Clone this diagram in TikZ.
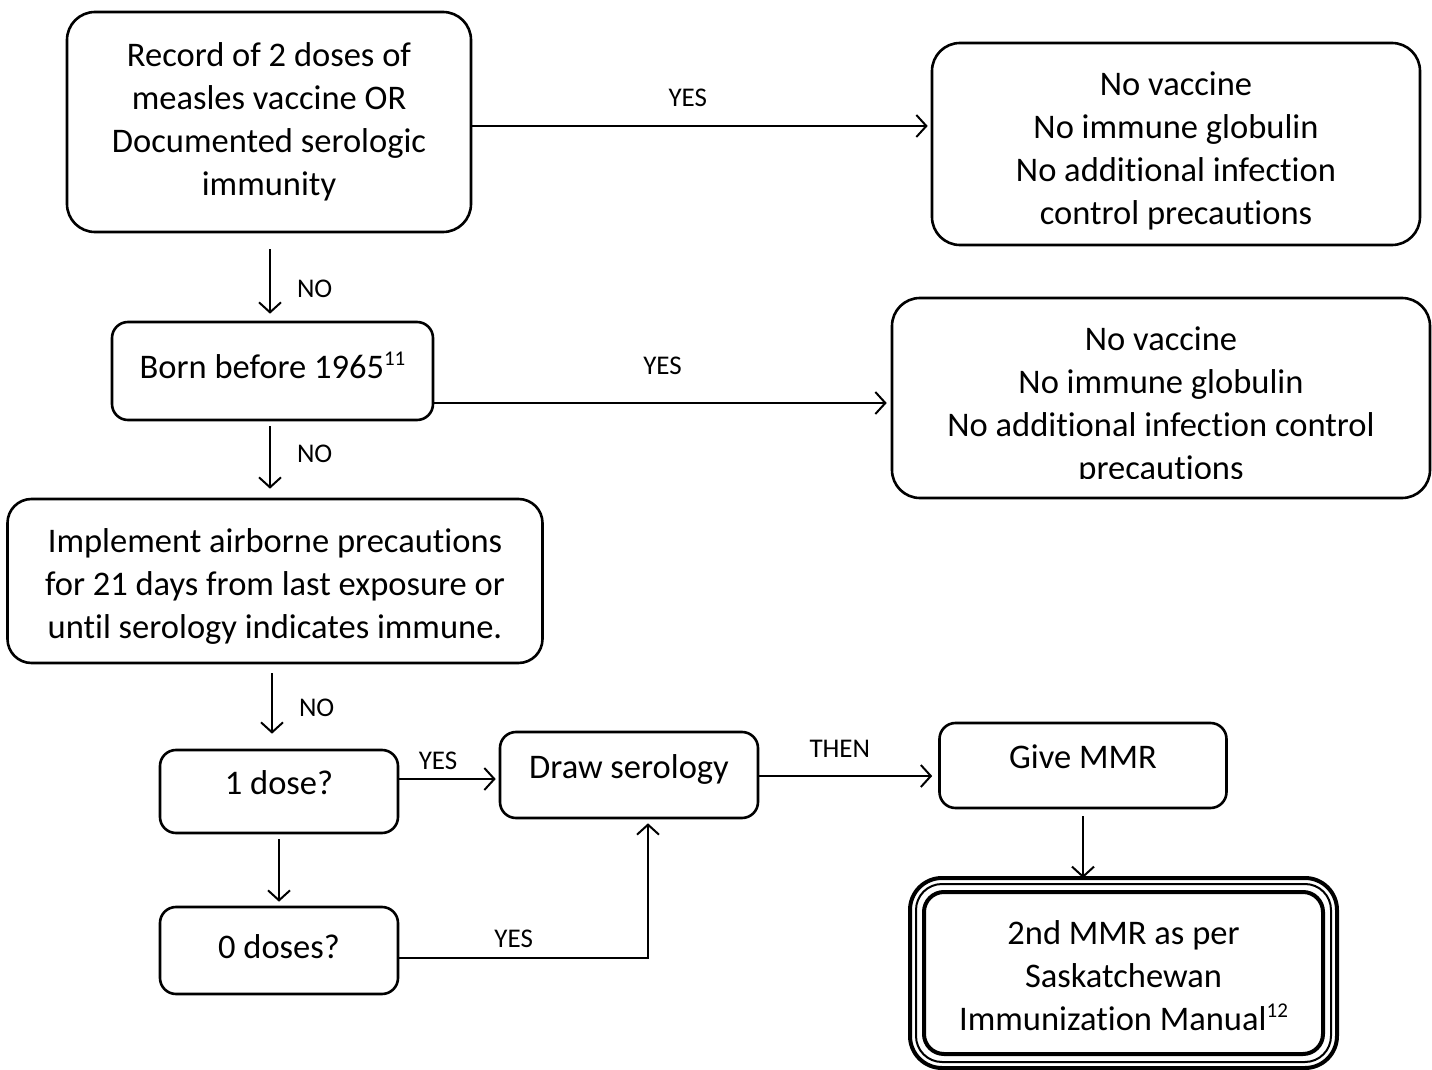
\documentclass[tikz,border=0pt]{standalone}
\usepackage{fontspec}
\setmainfont{Carlito}[Ligatures={NoCommon}]
\usepackage{tikz}
\usetikzlibrary{positioning,arrows.meta,calc}

\newcommand{\fnref}[1]{\raisebox{6.5pt}{\fontsize{10.5pt}{10.5pt}\selectfont #1}}
\newcommand{\topgap}[1]{\rule{0pt}{#1}}

\begin{document}
\begin{tikzpicture}[
  x=0.5pt, y=-0.5pt,
  box/.style={rectangle, draw, line width=1.3pt, rounded corners=14pt, align=center, inner sep=0pt, font=\fontsize{17.25pt}{21.5pt}\selectfont},
  small/.style={box, rounded corners=8pt, text height=12pt, text depth=4pt},
  lifted/.style={text height=12pt, text depth=9pt},
  lbl/.style={font=\fontsize{13.5pt}{16pt}\selectfont, inner sep=2pt},
  arrow/.style={-{Straight Barb[length=5pt,width=11pt]}, line width=1pt}
]
  \useasboundingbox (0,0) rectangle (1432,1070);

  \node[box, minimum width=202pt, minimum height=110pt] (record) at (269,122) {Record of 2 doses of\\measles vaccine OR\\Documented serologic\\immunity};
  \node[box, minimum width=244pt, minimum height=101pt] (noneA) at (1176,144) {\topgap{19pt}No vaccine\\No immune globulin\\No additional infection\\control precautions};
  \node[small, minimum width=160.5pt, minimum height=49pt] (born) at (272.5,371) {Born before 1965\fnref{11}};
  \node[box, minimum width=269pt, minimum height=100pt] (noneB) at (1161,398) {};
  \begin{scope}
    \clip (880,290) rectangle (1440,478);
    \node[box, draw=none] at ([yshift=-4pt]noneB.center) {No vaccine\\No immune globulin\\No additional infection control\\precautions};
  \end{scope}
  \node[box, rounded corners=12pt, minimum width=267.5pt, minimum height=82pt] (airborne) at (275,581) {\topgap{17.5pt}Implement airborne precautions\\for 21 days from last exposure or\\until serology indicates immune.};
  \node[small, lifted, minimum width=119pt, minimum height=41.5pt] (onedose) at (279,791.5) {1 dose?};
  \node[small, lifted, minimum width=129pt, minimum height=43pt] (serology) at (629,775) {Draw serology};
  \node[small, lifted, minimum width=143.5pt, minimum height=42.5pt] (givemmr) at (1083,765.5) {Give MMR};
  \node[small, minimum width=119pt, minimum height=43.5pt] (zerodose) at (279,950.5) {0 doses?};
  \node[box, line width=2pt, rounded corners=10pt, minimum width=199.5pt, minimum height=81pt] (secondmmr) at (1123.5,973) {\topgap{14.5pt}2nd MMR as per\\Saskatchewan\\Immunization Manual\fnref{12}};
  \draw[line width=1pt, rounded corners=13pt] ([shift={(-3pt,3pt)}]secondmmr.north west) rectangle ([shift={(3pt,-3pt)}]secondmmr.south east);
  \draw[line width=2pt, rounded corners=16pt] ([shift={(-6pt,6pt)}]secondmmr.north west) rectangle ([shift={(6pt,-6pt)}]secondmmr.south east);

  \draw[arrow, shorten >=1.5pt] (record.east |- 0,126) -- node[lbl, above=7.15pt, pos=0.47] {YES} (noneA.west |- 0,126);
  \draw[arrow, shorten >=2pt] (born.east |- 0,403) -- node[lbl, above=11.65pt] {YES} (noneB.west |- 0,403);
  \draw[arrow, shorten <=8pt, shorten >=3.5pt] (270,0 |- record.south) -- node[lbl, right=11pt, pos=0.63] {NO} (270,0 |- born.north);
  \draw[arrow, shorten <=2.5pt, shorten >=4.5pt] (270,0 |- born.south) -- node[lbl, right=11pt, pos=0.42] {NO} (270,0 |- airborne.north);
  \draw[arrow, shorten <=4.5pt, shorten >=7.5pt] (272,0 |- airborne.south) -- node[lbl, right=11pt, pos=0.52] {NO} (272,0 |- onedose.north);
  \draw[arrow, shorten >=1.5pt] (onedose.east |- 0,779) -- node[lbl, above=2.15pt, pos=0.39] {YES} (serology.west |- 0,779);
  \draw[arrow, shorten >=3pt] (serology.east |- 0,776) -- node[lbl, above=6.65pt, pos=0.45] {THEN} (givemmr.west |- 0,776);
  \draw[arrow, shorten <=2.5pt, shorten >=2pt] (onedose.south) -- (zerodose.north);
  \draw[arrow, shorten >=2pt] (zerodose.east |- 0,958) -| node[lbl, above=2.65pt, pos=0.23] {YES} (648,0 |- serology.south);
  \draw[arrow, shorten <=3.5pt, shorten >=6pt] (givemmr.south) -- (givemmr.south |- secondmmr.north);
\end{tikzpicture}
\end{document}
